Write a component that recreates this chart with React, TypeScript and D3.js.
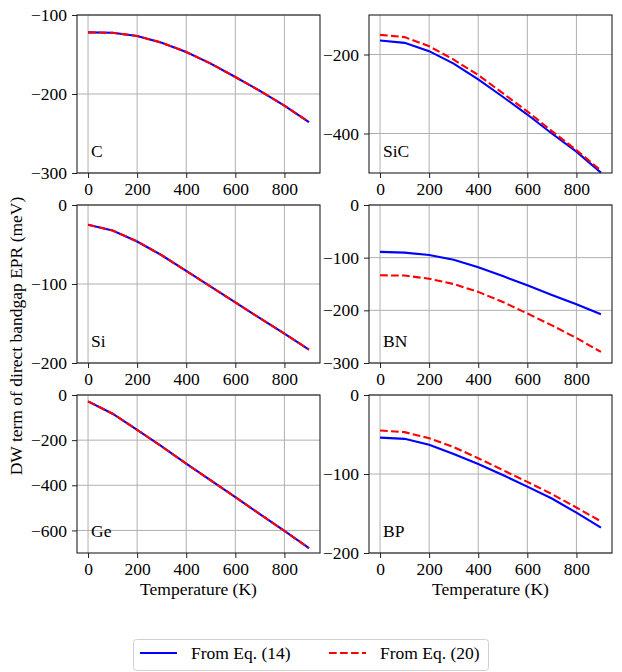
import { useEffect, useRef } from "react";
import * as d3 from "d3";

const TEMPS = [0, 100, 200, 300, 400, 500, 600, 700, 800, 900];
const X_TICKS = [0, 200, 400, 600, 800];

const C_EQ14 = [-122, -122.5, -126.5, -135, -146.8, -161.5, -178.5, -196, -214.7, -235.5];
const C_EQ20 = [-122, -122.5, -126.5, -135, -146.8, -161.5, -178.5, -196, -214.7, -235.5];
const SIC_EQ14 = [-164.7, -170.5, -191.6, -223, -263, -307, -352, -400, -446, -499];
const SIC_EQ20 = [-150.3, -156, -179, -213, -252, -298, -344, -394, -442, -494];
const SI_EQ14 = [-25, -32.2, -46.2, -63.6, -83.5, -103.4, -123.3, -143.2, -162.7, -183];
const SI_EQ20 = [-25, -32.2, -46.2, -63.6, -83.5, -103.4, -123.3, -143.2, -162.7, -183];
const BN_EQ14 = [-89, -90.5, -95, -104, -118, -135, -152.5, -171, -188.6, -207.6];
const BN_EQ20 = [-133.5, -134, -140, -150, -165, -184, -206, -228.5, -252.5, -279];
const GE_EQ14 = [-28, -83, -154, -228, -304.5, -378.5, -452, -528, -602, -678.5];
const GE_EQ20 = [-28, -83, -154, -228, -304.5, -378.5, -452, -528, -602, -678.5];
const BP_EQ14 = [-54, -55.5, -63, -74.6, -87.3, -101.3, -116, -131, -149, -168];
const BP_EQ20 = [-45, -47, -54.7, -66, -80, -95, -110, -125.4, -142.4, -160];

const PANELS = [
  { name: "C", eq14: C_EQ14, eq20: C_EQ20, yDomain: [-300, -100], yTicks: [-300, -200, -100] },
  { name: "SiC", eq14: SIC_EQ14, eq20: SIC_EQ20, yDomain: [-500, -100], yTicks: [-400, -200] },
  { name: "Si", eq14: SI_EQ14, eq20: SI_EQ20, yDomain: [-200, 0], yTicks: [-200, -100, 0] },
  { name: "BN", eq14: BN_EQ14, eq20: BN_EQ20, yDomain: [-300, 0], yTicks: [-300, -200, -100, 0] },
  { name: "Ge", eq14: GE_EQ14, eq20: GE_EQ20, yDomain: [-700, 0], yTicks: [-600, -400, -200, 0] },
  { name: "BP", eq14: BP_EQ14, eq20: BP_EQ20, yDomain: [-200, 0], yTicks: [-200, -100, 0] },
];

const FONT = "'Liberation Serif', 'Times New Roman', serif";
const FS = 17.5;

export default function App() {
  const svgRef = useRef<SVGSVGElement>(null);

  useEffect(() => {
    if (!svgRef.current) return;
    const svg = d3.select(svgRef.current);
    svg.selectAll("*").remove();

    const colX = [77, 369];
    const rowY = [15, 205, 395];
    const w = 243;
    const h = 158;

    PANELS.forEach((p, i) => {
      const col = i % 2;
      const row = Math.floor(i / 2);
      const g = svg.append("g").attr("transform", `translate(${colX[col]},${rowY[row]})`);

      const x = d3.scaleLinear().domain([-45, 945]).range([0, w]);
      const y = d3.scaleLinear().domain(p.yDomain).range([h, 0]);

      // grid
      g.append("g")
        .selectAll("line")
        .data(X_TICKS)
        .join("line")
        .attr("x1", (d) => x(d))
        .attr("x2", (d) => x(d))
        .attr("y1", 0)
        .attr("y2", h)
        .attr("stroke", "#b0b0b0")
        .attr("stroke-width", 1);
      g.append("g")
        .selectAll("line")
        .data(p.yTicks)
        .join("line")
        .attr("x1", 0)
        .attr("x2", w)
        .attr("y1", (d) => y(d))
        .attr("y2", (d) => y(d))
        .attr("stroke", "#b0b0b0")
        .attr("stroke-width", 1);

      // axes
      const xAxis = g.append("g")
        .attr("transform", `translate(0,${h})`)
        .call(d3.axisBottom(x).tickValues(X_TICKS).tickSize(5).tickPadding(5).tickFormat(d3.format("d")));
      const yAxis = g.append("g")
        .call(d3.axisLeft(y).tickValues(p.yTicks).tickSize(5).tickPadding(5).tickFormat(d3.format("d")));
      [xAxis, yAxis].forEach((a) => {
        a.select(".domain").remove();
        a.selectAll(".tick line").attr("stroke", "#222");
        a.selectAll(".tick text")
          .attr("fill", "#000")
          .attr("font-family", FONT)
          .attr("font-size", FS);
      });

      const clipId = `clip-${i}`;
      g.append("clipPath").attr("id", clipId)
        .append("rect").attr("x", 0).attr("y", -1).attr("width", w).attr("height", h + 2);

      const line = d3.line<number>()
        .x((_, j) => x(TEMPS[j]))
        .y((d) => y(d));

      g.append("path")
        .attr("d", line(p.eq14))
        .attr("clip-path", `url(#${clipId})`)
        .attr("fill", "none")
        .attr("stroke", "#0000ff")
        .attr("stroke-width", 2.1);
      g.append("path")
        .attr("d", line(p.eq20))
        .attr("clip-path", `url(#${clipId})`)
        .attr("fill", "none")
        .attr("stroke", "#ff0000")
        .attr("stroke-width", 2.1)
        .attr("stroke-dasharray", "7.7,3.3");

      // frame
      g.append("rect")
        .attr("width", w)
        .attr("height", h)
        .attr("fill", "none")
        .attr("stroke", "#222")
        .attr("stroke-width", 1.1);

      g.append("text")
        .attr("x", 14)
        .attr("y", h - 16)
        .attr("font-family", FONT)
        .attr("font-size", FS)
        .text(p.name);

      if (row === 2) {
        g.append("text")
          .attr("x", w / 2)
          .attr("y", h + 42)
          .attr("text-anchor", "middle")
          .attr("font-family", FONT)
          .attr("font-size", FS)
          .text("Temperature (K)");
      }
    });

    svg.append("text")
      .attr("transform", "translate(22,336) rotate(-90)")
      .attr("text-anchor", "middle")
      .attr("font-family", FONT)
      .attr("font-size", FS)
      .text("DW term of direct bandgap EPR (meV)");

    // legend
    const lg = svg.append("g");
    lg.append("rect")
      .attr("x", 133.5)
      .attr("y", 639.5)
      .attr("width", 355)
      .attr("height", 31)
      .attr("rx", 3)
      .attr("fill", "#fff")
      .attr("stroke", "#d0d0d0");
    const items = [
      { label: "From Eq. (14)", color: "#0000ff", dash: null, x: 140 },
      { label: "From Eq. (20)", color: "#ff0000", dash: "7.7,3.3", x: 329 },
    ];
    items.forEach((it) => {
      lg.append("line")
        .attr("x1", it.x)
        .attr("x2", it.x + 37)
        .attr("y1", 653)
        .attr("y2", 653)
        .attr("stroke", it.color)
        .attr("stroke-width", 2.1)
        .attr("stroke-dasharray", it.dash);
      lg.append("text")
        .attr("x", it.x + 51)
        .attr("y", 659)
        .attr("font-family", FONT)
        .attr("font-size", FS)
        .text(it.label);
    });
  }, []);

  return (
    <svg
      ref={svgRef}
      width={622}
      height={672}
      style={{ position: "absolute", left: 0, top: 0, background: "#fff" }}
    />
  );
}
